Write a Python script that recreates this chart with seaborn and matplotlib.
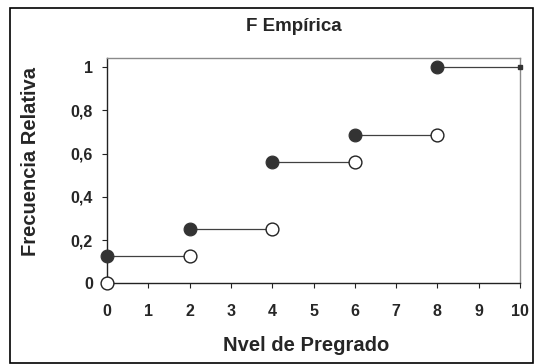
import matplotlib
matplotlib.use('Agg')
import matplotlib.pyplot as plt
import matplotlib.patches as patches
from matplotlib.ticker import FuncFormatter
import pandas as pd
import seaborn as sns

# --------------------------
# Data: empirical distribution function (steps)
# --------------------------
x_salto = [0, 2, 4, 6, 8]                       # jump positions
x_fin = [2, 4, 6, 8, 10]                        # end of each step
f_antes = [0, 0.125, 0.25, 0.5625, 0.6875]      # open circles (left limit)
f_despues = [0.125, 0.25, 0.5625, 0.6875, 1.0]  # filled circles (value)
x_ticks = [0, 1, 2, 3, 4, 5, 6, 7, 8, 9, 10]
y_ticks = [0, 0.2, 0.4, 0.6, 0.8, 1]

df_lleno = pd.DataFrame({'x': x_salto, 'F': f_despues})
df_vacio = pd.DataFrame({'x': x_salto, 'F': f_antes})

# --------------------------
# Style
# --------------------------
sns.set_theme(style='white')
plt.rcParams['font.family'] = ['Liberation Sans', 'DejaVu Sans']
plt.rcParams['font.weight'] = 'bold'

fig = plt.figure(figsize=(5.34, 3.64), dpi=100)
ax = fig.add_axes([107 / 534, 1 - 283.3 / 364, 413 / 534, 225.6 / 364])

# steps
ax.hlines(f_despues, x_salto, x_fin, color='#404040', linewidth=0.9, zorder=2)
ax.plot([x_fin[-1]], [f_despues[-1]], marker='s', markersize=2.5, color='#333333',
        clip_on=False, zorder=3)

# filled and open circles
sns.scatterplot(data=df_lleno, x='x', y='F', ax=ax, s=85, color='#333333',
                edgecolor='#333333', linewidth=0.8, zorder=4, clip_on=False)
sns.scatterplot(data=df_vacio, x='x', y='F', ax=ax, s=85, color='white',
                edgecolor='#222222', linewidth=1.0, zorder=4, clip_on=False)

ax.set_xlim(0, 10)
ax.set_ylim(0, 1.044)
ax.set_xticks(x_ticks)
ax.set_yticks(y_ticks)
ax.yaxis.set_major_formatter(FuncFormatter(lambda v, p: f'{v:g}'.replace('.', ',')))
ax.tick_params(axis='both', which='major', direction='out', length=3.6, width=0.8,
               color='#222222', labelsize=11.5, bottom=True, left=True)
ax.tick_params(axis='x', pad=11)
ax.tick_params(axis='y', pad=6.5)
for lab in ax.get_xticklabels() + ax.get_yticklabels():
    lab.set_fontweight('bold')

for side in ['left', 'bottom']:
    ax.spines[side].set_color('#222222')
    ax.spines[side].set_linewidth(1.0)
for side in ['top', 'right']:
    ax.spines[side].set_color('#8a8a8a')
    ax.spines[side].set_linewidth(1.0)

ax.set_xlabel('')
ax.set_ylabel('')
fig.text(306 / 534, 1 - 351 / 364, 'Nvel de Pregrado', ha='center', va='baseline',
         fontsize=14.5, fontweight='bold')
fig.text(31 / 534, 1 - 161 / 364, 'Frecuencia Relativa', ha='center', va='center',
         rotation=90, fontsize=14.5, fontweight='bold')
fig.text(294 / 534, 1 - 30.7 / 364, 'F Empírica', ha='center', va='baseline',
         fontsize=13.5, fontweight='bold')

# outer chart border
fig.patches.append(patches.Rectangle((10 / 534, 1 / 364), 522.5 / 534, 355.5 / 364,
                                     transform=fig.transFigure, fill=False,
                                     edgecolor='black', linewidth=1.2))

plt.savefig('out.png', dpi=100, facecolor='white')
plt.close()
